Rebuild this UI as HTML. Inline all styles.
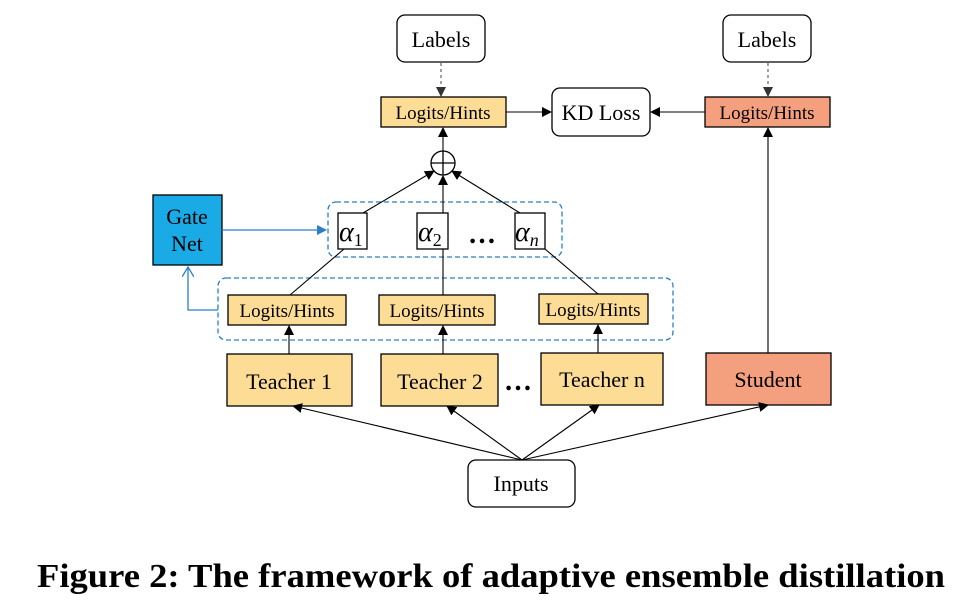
<!DOCTYPE html>
<html><head><style>
html,body{margin:0;padding:0;background:#fff;}
svg{display:block;}
text{font-family:"Liberation Serif",serif;fill:#000;}
</style></head><body>
<svg width="964" height="608" viewBox="0 0 964 608" xmlns="http://www.w3.org/2000/svg">
<defs>
<marker id="a" markerWidth="10" markerHeight="10" refX="9" refY="5" orient="auto" markerUnits="userSpaceOnUse"><path d="M0,0 L10,5 L0,10 z" fill="#000"/></marker>
<marker id="g" markerWidth="10" markerHeight="10" refX="9" refY="5" orient="auto" markerUnits="userSpaceOnUse"><path d="M0,0 L10,5 L0,10 z" fill="#333"/></marker>
<marker id="b" markerWidth="10" markerHeight="10" refX="9" refY="5" orient="auto" markerUnits="userSpaceOnUse"><path d="M0,0 L10,5 L0,10 z" fill="#2a7fc8"/></marker>
<marker id="bo" markerWidth="12" markerHeight="12" refX="10" refY="6" orient="auto" markerUnits="userSpaceOnUse"><path d="M0,0 L10,6 L0,12" fill="none" stroke="#2a7fc8" stroke-width="1.3"/></marker>
</defs>
<g stroke="#000" stroke-width="1.3">
<rect x="397" y="15" width="88" height="47" rx="8" fill="#fff"/>
<rect x="723" y="15" width="88" height="47" rx="8" fill="#fff"/>
<rect x="381" y="97" width="125" height="30" fill="#fddc96"/>
<rect x="705" y="97" width="125" height="30" fill="#f4a07e"/>
<rect x="552" y="88" width="98" height="48" rx="8" fill="#fff"/>
<rect x="153" y="195" width="69" height="70" fill="#1aabe6"/>
<rect x="338" y="213" width="29" height="36" fill="#fff"/>
<rect x="417" y="213" width="31" height="36" fill="#fff"/>
<rect x="515" y="213" width="30" height="36" fill="#fff"/>
<rect x="228" y="295" width="118" height="30" fill="#fddc96"/>
<rect x="379" y="295" width="116" height="30" fill="#fddc96"/>
<rect x="539" y="294" width="109" height="30" fill="#fddc96"/>
<rect x="227" y="354" width="125" height="52" fill="#fddc96"/>
<rect x="381" y="354" width="117" height="52" fill="#fddc96"/>
<rect x="541" y="353" width="122" height="52" fill="#fddc96"/>
<rect x="706" y="353" width="125" height="52" fill="#f4a07e"/>
<rect x="468" y="460" width="107" height="47" rx="8" fill="#fff"/>
<circle cx="443" cy="163" r="12" fill="#fff"/>
<line x1="431" y1="163" x2="455" y2="163"/>
<line x1="443" y1="151" x2="443" y2="175"/>
</g>
<rect x="328" y="202" width="234" height="55" rx="8" fill="none" stroke="#2a7fc8" stroke-width="1.3" stroke-dasharray="5,3"/>
<rect x="218" y="278" width="455" height="62" rx="8" fill="none" stroke="#2a7fc8" stroke-width="1.3" stroke-dasharray="5,3"/>
<g stroke="#000" stroke-width="1.1" fill="none">
<line x1="506" y1="112" x2="551" y2="112" marker-end="url(#a)"/>
<line x1="705" y1="112" x2="651" y2="112" marker-end="url(#a)"/>
<line x1="768" y1="353" x2="768" y2="128" marker-end="url(#a)"/>
<line x1="443" y1="151" x2="443" y2="128" marker-end="url(#a)"/>
<line x1="443" y1="213" x2="443" y2="176" marker-end="url(#a)"/>
<line x1="363" y1="213" x2="434" y2="171" marker-end="url(#a)"/>
<line x1="520" y1="213" x2="452" y2="171" marker-end="url(#a)"/>
<line x1="290" y1="295" x2="344" y2="249"/>
<line x1="443" y1="295" x2="443" y2="249"/>
<line x1="598" y1="294" x2="545" y2="249"/>
<line x1="289" y1="354" x2="289" y2="326" marker-end="url(#a)"/>
<line x1="443" y1="354" x2="443" y2="326" marker-end="url(#a)"/>
<line x1="598" y1="353" x2="598" y2="325" marker-end="url(#a)"/>
<line x1="522" y1="460" x2="293" y2="406" marker-end="url(#a)"/>
<line x1="522" y1="460" x2="447" y2="406" marker-end="url(#a)"/>
<line x1="522" y1="460" x2="599" y2="405" marker-end="url(#a)"/>
<line x1="522" y1="460" x2="768" y2="405" marker-end="url(#a)"/>
</g>
<g stroke="#555" stroke-width="1.1" stroke-dasharray="3,3" fill="none">
<line x1="441" y1="63" x2="441" y2="96" marker-end="url(#g)"/>
<line x1="768" y1="63" x2="768" y2="96" marker-end="url(#g)"/>
</g>
<g stroke="#2a7fc8" stroke-width="1.3" fill="none">
<line x1="222" y1="230" x2="326" y2="230" marker-end="url(#b)"/>
<polyline points="218,310 188,310 188,267" marker-end="url(#bo)"/>
</g>
<g font-size="22" text-anchor="middle">
<text x="441" y="47">Labels</text>
<text x="767" y="47">Labels</text>
<text x="601" y="120">KD Loss</text>
<text x="187" y="224">Gate</text>
<text x="187" y="251">Net</text>
<text x="289" y="389">Teacher 1</text>
<text x="440" y="389">Teacher 2</text>
<text x="602" y="387">Teacher n</text>
<text x="768" y="387">Student</text>
<text x="521" y="491">Inputs</text>
</g>
<g font-size="19" text-anchor="middle">
<text x="443" y="119">Logits/Hints</text>
<text x="767" y="119">Logits/Hints</text>
<text x="287" y="317">Logits/Hints</text>
<text x="437" y="317">Logits/Hints</text>
<text x="593" y="316">Logits/Hints</text>
</g>
<g font-size="28" font-style="italic">
<text x="339" y="241">α<tspan font-size="18" font-style="normal" dy="5">1</tspan></text>
<text x="418" y="241">α<tspan font-size="18" font-style="normal" dy="5">2</tspan></text>
<text x="515" y="241">α<tspan font-size="18" dy="5">n</tspan></text>
</g>
<text x="468" y="243" font-size="28" font-weight="bold">…</text>
<text x="504" y="390" font-size="28" font-weight="bold">…</text>
<text x="37" y="587" font-size="34" font-weight="bold" textLength="908" lengthAdjust="spacingAndGlyphs">Figure 2: The framework of adaptive ensemble distillation</text>
</svg>
</body></html>
